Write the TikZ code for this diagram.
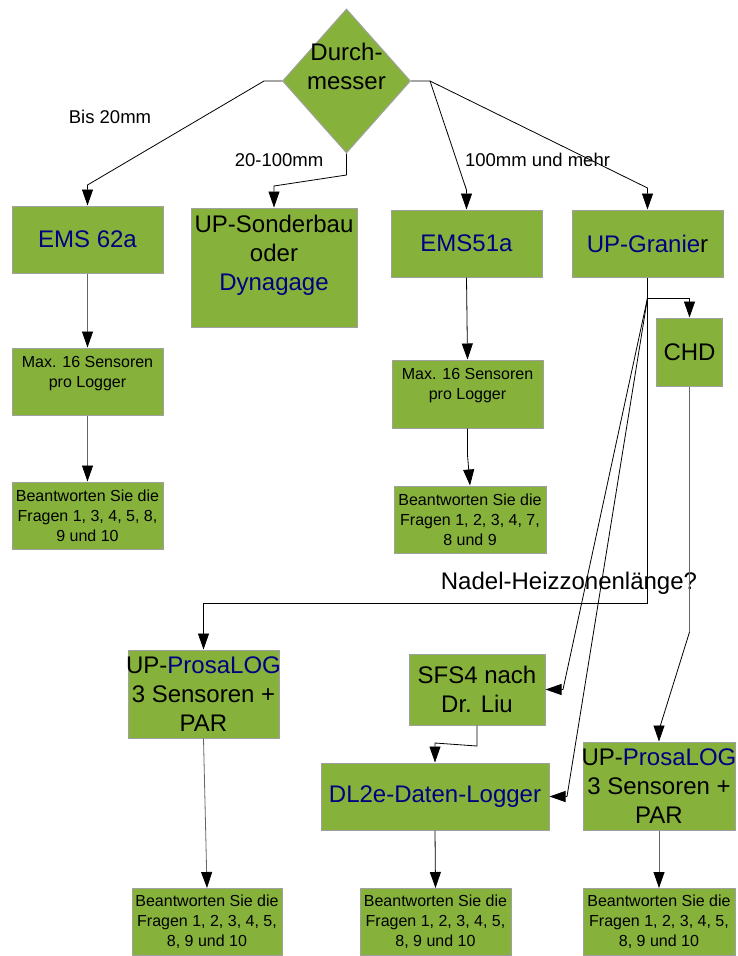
\documentclass[tikz,border=0pt]{standalone}
\usepackage{fontspec}
\setmainfont{Liberation Sans}
\usetikzlibrary{shapes.geometric,arrows.meta}
\definecolor{boxgreen}{RGB}{134,178,60}
\definecolor{boxedge}{RGB}{160,160,160}
\definecolor{txtblue}{RGB}{0,0,128}
\definecolor{linegray}{RGB}{100,100,100}
\tikzset{
 box/.style={draw=boxedge, fill=boxgreen, line width=1pt, inner sep=0pt, align=center},
 big/.style={font=\fontsize{24}{29}\selectfont},
 small/.style={font=\fontsize{16}{20}\selectfont},
 lbl/.style={font=\fontsize{18.5}{22}\selectfont, inner sep=0pt},
 arr/.style={line width=0.8pt, -{Triangle[width=11pt,length=16pt,color=black]}},
 con/.style={line width=0.8pt},
}
\begin{document}
\begin{tikzpicture}[x=1pt,y=-1pt]
\useasboundingbox (0,0) rectangle (737,956);
% decision
\node[diamond, draw=boxedge, fill=boxgreen, line width=1pt, minimum width=128pt, minimum height=144pt, inner sep=0pt] (dm) at (346.5,81) {};
\node[big, align=center, inner sep=0pt] (dmtext) at (346.5,66) {Durch-\\messer};
% boxes
\node[box,big,minimum width=151pt,minimum height=67pt] (ems62) at (87.5,239.5) {\textcolor{txtblue}{EMS 62a}};
\node[box,big,minimum width=166pt,minimum height=119pt] (sond) at (274,267.5) {UP-Sonderbau\\oder\\\textcolor{txtblue}{Dynagage}\\\mbox{}};
\node[box,small,minimum width=151pt,minimum height=67pt] (max1) at (87.5,381.5) {Max. 16 Sensoren\\pro Logger\\\mbox{}};
\node[box,small,minimum width=151pt,minimum height=67pt] (ans1) at (87.5,515.5) {Beantworten Sie die\\Fragen 1, 3, 4, 5, 8,\\9 und 10};
\node[box,big,minimum width=151pt,minimum height=67pt] (ems51) at (466.5,243.5) {\textcolor{txtblue}{EMS51a}};
\node[box,small,minimum width=151pt,minimum height=68pt] (max2) at (467.5,394) {Max. 16 Sensoren\\pro Logger\\\mbox{}};
\node[box,small,minimum width=152pt,minimum height=67pt] (ans2) at (470,519.5) {Beantworten Sie die\\Fragen 1, 2, 3, 4, 7,\\8 und 9};
\node[box,big,minimum width=151pt,minimum height=67pt] (gran) at (647.5,243.5) {\textcolor{txtblue}{UP-Granie}r};
\node[box,big,minimum width=66pt,minimum height=68pt] (chd) at (689.5,352) {CHD};
\node[box,big,minimum width=151pt,minimum height=88pt] (pl1) at (203.5,694) {\makebox[0pt]{UP-\textcolor{txtblue}{ProsaLOG}}\\3 Sensoren +\\PAR};
\node[box,small,minimum width=150pt,minimum height=67pt] (ans4) at (207,922) {Beantworten Sie die\\Fragen 1, 2, 3, 4, 5,\\8, 9 und 10};
\node[box,big,minimum width=136pt,minimum height=71pt] (sfs) at (477,689.5) {SFS4 nach\\Dr. Liu};
\node[box,big,minimum width=228pt,minimum height=67pt] (dl) at (435,796.5) {\textcolor{txtblue}{DL2e-Daten-Logger}};
\node[box,small,minimum width=151pt,minimum height=67pt] (ans3) at (435.5,922) {Beantworten Sie die\\Fragen 1, 2, 3, 4, 5,\\8, 9 und 10};
\node[box,big,minimum width=152pt,minimum height=88pt] (pr2) at (659,786) {\makebox[0pt]{UP-\textcolor{txtblue}{ProsaLOG}}\\3 Sensoren +\\PAR};
\node[box,small,minimum width=152pt,minimum height=67pt] (ans5) at (659,922) {Beantworten Sie die\\Fragen 1, 2, 3, 4, 5,\\8, 9 und 10};
% labels
\node[lbl] (l1) at (110,117) {Bis 20mm};
\node[lbl] (l2) at (279,160) {20-100mm};
\node[lbl] (l3) at (537.5,160) {100mm und mehr};
\node[big, inner sep=0pt] (l4) at (569,583) {Nadel-Heizzonenlänge?};
% connectors
\coordinate (a1) at (264,81); \coordinate (a2) at (87.5,185);
\draw[arr] (dm.west) -- (a1) -- (a2) -- (ems62.north);
\coordinate (b1) at (346.5,175); \coordinate (b2) at (274,186);
\draw[arr] (dm.south) -- (b1) -- (b2) -- (sond.north);
\coordinate (d1) at (430,81); \coordinate (d2) at (466.5,190); \coordinate (d3) at (647.5,188);
\draw[arr] (dm.east) -- (d1) -- (d2) -- (ems51.north);
\draw[arr] (d1) -- (d3) -- (gran.north);
\draw[arr,linegray] (ems62.south) -- (max1.north);
\draw[arr,linegray] (max1.south) -- (ans1.north);
\draw[arr] (ems51.south) -- (max2.north);
\coordinate (e1) at (467.5,455);
\draw[arr] (max2.south) -- (e1) -- (ans2.north);
\coordinate (g1) at (647.5,298); \coordinate (g2) at (689.5,298);
\draw[con] (gran.south) -- (g1);
\draw[arr] (g1) -- (g2) -- (chd.north);
\coordinate (g3) at (647.5,603); \coordinate (g4) at (203.5,603);
\draw[arr] (g1) -- (g3) -- (g4) -- (pl1.north);
\coordinate (h1) at (563,689.5);
\draw[arr] (g1) -- (h1) -- (sfs.east);
\coordinate (h2) at (567,796.5);
\draw[arr] (g1) -- (h2) -- (dl.east);
\coordinate (k1) at (689.5,632); \coordinate (k2) at (659,730);
\draw[con,linegray] (chd.south) -- (k1);
\draw[arr] (k1) -- (k2) -- (pr2.north);
\coordinate (m1) at (477,746); \coordinate (m2) at (435,743);
\draw[arr] (sfs.south) -- (m1) -- (m2) -- (dl.north);
\draw[arr] (dl.south) -- (ans3.north);
\draw[arr,linegray] (pl1.south) -- (ans4.north);
\draw[arr,linegray] (pr2.south) -- (ans5.north);
\end{tikzpicture}
\end{document}
